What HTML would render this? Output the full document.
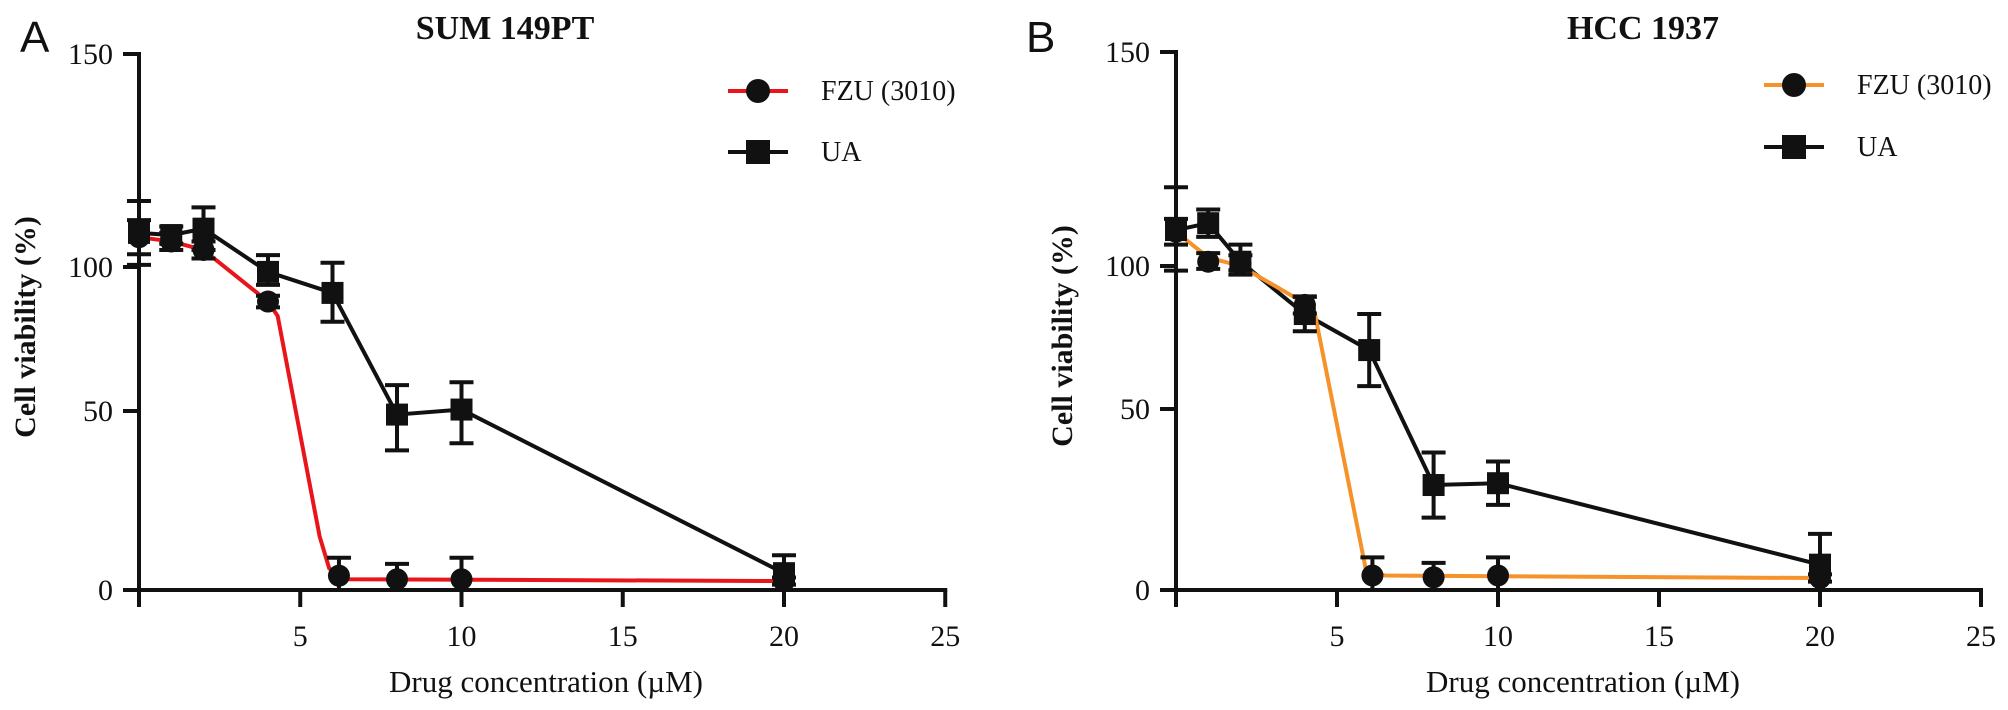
<!DOCTYPE html>
<html><head><meta charset="utf-8"><style>
html,body{margin:0;padding:0;background:#fff;}
svg{display:block;}
text{font-family:"Liberation Serif",serif;fill:#111;}
</style></head><body>
<svg id="fig" width="2008" height="710" viewBox="0 0 2008 710" xmlns="http://www.w3.org/2000/svg"></svg>
<script>
// ---- data ----
const xTicks = [5, 10, 15, 20, 25];
const yTicks = [0, 50, 100, 150];
const conc = [0, 1, 2, 4, 6, 8, 10, 20];
// Panel A (SUM 149PT)
const fzuXA = [0, 1, 2, 4, 6.2, 8, 10, 20];
const fzuA = [107, 106, 104, 88, 4, 3, 3, 2.5];
const fzuErrA = [4, 2, 2, 2, 5, 4.3, 6, 1];
const fzuCurveXA = [0, 1, 2, 4, 4.3, 5.6, 5.9, 6.5, 20];
const fzuCurveA = [107, 106, 104, 88, 83, 15, 6, 3, 2.5];
const uaA = [108, 107.5, 109, 98.3, 91, 49, 50.5, 4.7];
const uaErrA = [7.5, 2, 5, 4.5, 10, 10, 9.5, 5];
// Panel B (HCC 1937)
const fzuXB = [0, 1, 2, 4, 6.1, 8, 10, 20];
const fzuB = [108, 101, 100.5, 86.4, 4, 3.5, 4, 3.3];
const fzuErrB = [3, 2, 2, 3, 5, 4, 5, 1];
const fzuCurveXB = [0, 1, 2, 4, 4.3, 5.9, 6.5, 20];
const fzuCurveB = [108, 102, 100, 87, 84, 5.5, 4, 3.3];
const uaB = [108.4, 110, 101, 83.2, 70.6, 29, 29.5, 7];
const uaErrB = [10, 3.2, 4, 6, 12.6, 9, 6, 8.5];

const NS = "http://www.w3.org/2000/svg";
const svg = document.getElementById('fig');
function mk(tag, attrs, parent) {
  const e = document.createElementNS(NS, tag);
  for (const k in attrs) e.setAttribute(k, attrs[k]);
  (parent || svg).appendChild(e);
  return e;
}

function panel(cfg) {
  const g = mk('g', {});
  
  
  const x = v => cfg.x0 + v * cfg.xUnit;
  const y = v => {
    const a = cfg.yAnch;
    if (v <= 0) return a[0] + (a[0] - a[1]) / 50 * (-v);
    for (let i = 0; i < yTicks.length - 1; i++) {
      if (v <= yTicks[i + 1] || i === yTicks.length - 2) {
        const t = (v - yTicks[i]) / (yTicks[i + 1] - yTicks[i]);
        return a[i] + (a[i + 1] - a[i]) * t;
      }
    }
  };
  const ya = mk('line', {x1: x(0), y1: y(150) - 2, x2: x(0), y2: y(0) + 17, stroke: '#111', 'stroke-width': 4}, g);
   
  const xa = mk('line', {x1: x(0) - 16, y1: y(0), x2: x(25) + 2, y2: y(0), stroke: '#111', 'stroke-width': 4}, g);
   
  yTicks.forEach(t => {
    const l = mk('line', {x1: x(0) - 16, y1: y(t), x2: x(0), y2: y(t), stroke: '#111', 'stroke-width': 4}, g);
     
    const tx = mk('text', {x: x(0) - 26, y: y(t) + 10, 'font-size': 30, 'text-anchor': 'end', fill: '#333'}, g);
    tx.textContent = t;
     
  });
  xTicks.forEach(t => {
    const l = mk('line', {x1: x(t), y1: y(0), x2: x(t), y2: y(0) + 17, stroke: '#111', 'stroke-width': 4}, g);
     
    const tx = mk('text', {x: x(t), y: y(0) + 56, 'font-size': 30, 'text-anchor': 'middle', fill: '#333'}, g);
    tx.textContent = t;
     
  });
  const tt = mk('text', {x: cfg.titleX, y: 39, 'font-size': 34, 'font-weight': 'bold', 'text-anchor': 'middle'}, g);
  tt.textContent = cfg.title;
   
  const lt = mk('text', {x: cfg.letterX, y: 52, 'font-size': 44}, g);
  lt.setAttribute('style', 'font-family:"Liberation Sans",sans-serif');
  lt.textContent = cfg.letter;
   
  const xt = mk('text', {x: x(0) + 407, y: 692, 'font-size': 31, 'text-anchor': 'middle', fill: '#333'}, g);
  xt.textContent = 'Drug concentration (\u00B5M)';
   
  const yt = mk('text', {x: 0, y: 0, 'font-size': 30, 'font-weight': 'bold', 'text-anchor': 'middle', transform: 'translate(' + (x(0) - 104) + ',' + cfg.yTitleY + ') rotate(-90)'}, g);
  yt.textContent = 'Cell viability (%)';
   

  const uaPts = conc.map((c, i) => x(c) + ',' + y(cfg.ua[i])).join(' ');
  const ul = mk('polyline', {points: uaPts, fill: 'none', stroke: '#111', 'stroke-width': 4}, g);
   
  const fPts = cfg.fcx.map((c, i) => x(c) + ',' + y(cfg.fc[i])).join(' ');
  const fl = mk('polyline', {points: fPts, fill: 'none', stroke: cfg.color, 'stroke-width': 4, 'stroke-linejoin': 'round'}, g);
   

  function errbar(cx, v, e, name) {
    const top = y(v + e), bot = y(Math.max(0, v - e));
    const p = mk('path', {d: 'M' + cx + ',' + top + 'V' + bot + 'M' + (cx - 12) + ',' + top + 'H' + (cx + 12) + 'M' + (cx - 12) + ',' + bot + 'H' + (cx + 12), stroke: '#111', 'stroke-width': 4, fill: 'none'}, g);
     
  }
  cfg.fx.forEach((c, i) => {
    errbar(x(c), cfg.f[i], cfg.fe[i], 'fzu-error-bar');
    const m = mk('circle', {cx: x(c), cy: y(cfg.f[i]), r: 11, fill: '#111'}, g);
     
  });
  conc.forEach((c, i) => {
    errbar(x(c), cfg.ua[i], cfg.uae[i], 'ua-error-bar');
    const m = mk('rect', {x: x(c) - 11, y: y(cfg.ua[i]) - 11, width: 22, height: 22, fill: '#111'}, g);
     
  });

  const lg = mk('g', {}, g);
   
  const lx = cfg.legX;
  const e1 = mk('g', {}, lg);
   
  mk('line', {x1: lx - 30, y1: cfg.legY1, x2: lx + 30, y2: cfg.legY1, stroke: cfg.color, 'stroke-width': 4}, e1);
  mk('circle', {cx: lx, cy: cfg.legY1, r: 12, fill: '#111'}, e1);
  const t1 = mk('text', {x: lx + 63, y: cfg.legY1 + 9, 'font-size': 28, fill: '#333'}, e1);
  t1.textContent = 'FZU (3010)';
  const e2 = mk('g', {}, lg);
   
  mk('line', {x1: lx - 30, y1: cfg.legY2, x2: lx + 30, y2: cfg.legY2, stroke: '#111', 'stroke-width': 4}, e2);
  mk('rect', {x: lx - 12, y: cfg.legY2 - 12, width: 24, height: 24, fill: '#111'}, e2);
  const t2 = mk('text', {x: lx + 63, y: cfg.legY2 + 9, 'font-size': 28, fill: '#333'}, e2);
  t2.textContent = 'UA';
}

panel({id: 'sum149pt', x0: 139, xUnit: 32.25, yAnch: [590, 411, 267, 54], color: '#e8161b',
  title: 'SUM 149PT', titleX: 505, letter: 'A', letterX: 20, yTitleY: 327,
  fx: fzuXA, f: fzuA, fe: fzuErrA, fcx: fzuCurveXA, fc: fzuCurveA, ua: uaA, uae: uaErrA,
  legX: 758, legY1: 91, legY2: 152});
panel({id: 'hcc1937', x0: 1176, xUnit: 32.2, yAnch: [590, 409, 266, 52], color: '#f5922a',
  title: 'HCC 1937', titleX: 1643, letter: 'B', letterX: 1026, yTitleY: 336,
  fx: fzuXB, f: fzuB, fe: fzuErrB, fcx: fzuCurveXB, fc: fzuCurveB, ua: uaB, uae: uaErrB,
  legX: 1794, legY1: 85, legY2: 147});
</script>
</body></html>
